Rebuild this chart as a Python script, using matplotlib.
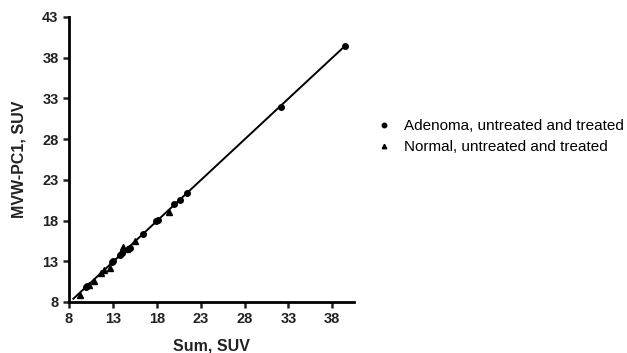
import numpy as np
import matplotlib
matplotlib.use("Agg")
import matplotlib.pyplot as plt

plt.rcParams['font.family'] = ['Liberation Sans', 'DejaVu Sans']

# adenoma (circles) and normal (triangles): Sum vs MVW-PC1, SUV
adenoma_sum = [39.4, 32.1, 21.5, 20.6, 20.0, 18.1, 17.9, 16.4, 14.9, 14.0, 13.8, 13.0, 12.9, 10.1, 9.9]
adenoma_mvw = [39.4, 32.0, 21.4, 20.5, 20.0, 18.1, 17.9, 16.4, 14.6, 14.0, 13.8, 13.0, 12.9, 10.0, 9.9]
normal_sum = [9.2, 10.3, 10.8, 11.7, 12.0, 12.7, 14.2, 14.6, 15.5, 19.4]
normal_mvw = [8.9, 10.1, 10.6, 11.6, 11.9, 12.2, 14.8, 14.5, 15.5, 19.1]

fit_x = [8.5, 39.4]

fig = plt.figure(figsize=(6.27, 3.53), dpi=100)
ax = fig.add_axes([0.110, 0.1445, 0.455, 0.8075])

all_x = np.array(adenoma_sum + normal_sum)
all_y = np.array(adenoma_mvw + normal_mvw)
k, b = np.polyfit(all_x, all_y, 1)
ax.plot(fit_x, [k * v + b for v in fit_x], color='black', lw=1.4, zorder=2)

ax.plot(adenoma_sum, adenoma_mvw, 'o', color='black', ms=4, ls='none',
        label='Adenoma, untreated and treated', zorder=3)
ax.plot(normal_sum, normal_mvw, '^', color='black', ms=4, ls='none',
        label='Normal, untreated and treated', zorder=3)

ax.set_xlim(8, 40.5)
ax.set_ylim(8, 43)
ax.set_xticks([8, 13, 18, 23, 28, 33, 38])
ax.set_yticks([8, 13, 18, 23, 28, 33, 38, 43])

for s in ['top', 'right']:
    ax.spines[s].set_visible(False)
for s in ['left', 'bottom']:
    ax.spines[s].set_linewidth(2)
ax.tick_params(direction='out', length=4, width=1.8, labelsize=10.5, colors='#222222')
for lab in ax.get_xticklabels() + ax.get_yticklabels():
    lab.set_fontweight('bold')

ax.set_xlabel('Sum, SUV', fontsize=11.5, fontweight='bold', color='#222222', labelpad=9)
ax.set_ylabel('MVW-PC1, SUV', fontsize=11.5, fontweight='bold', color='#222222', labelpad=11)

ax.legend(loc='upper left', bbox_to_anchor=(1.03, 0.69), frameon=False, fontsize=11,
          handlelength=1.0, handletextpad=0.8, labelspacing=0.45, markerscale=0.8)

fig.savefig('out.png', dpi=100)
